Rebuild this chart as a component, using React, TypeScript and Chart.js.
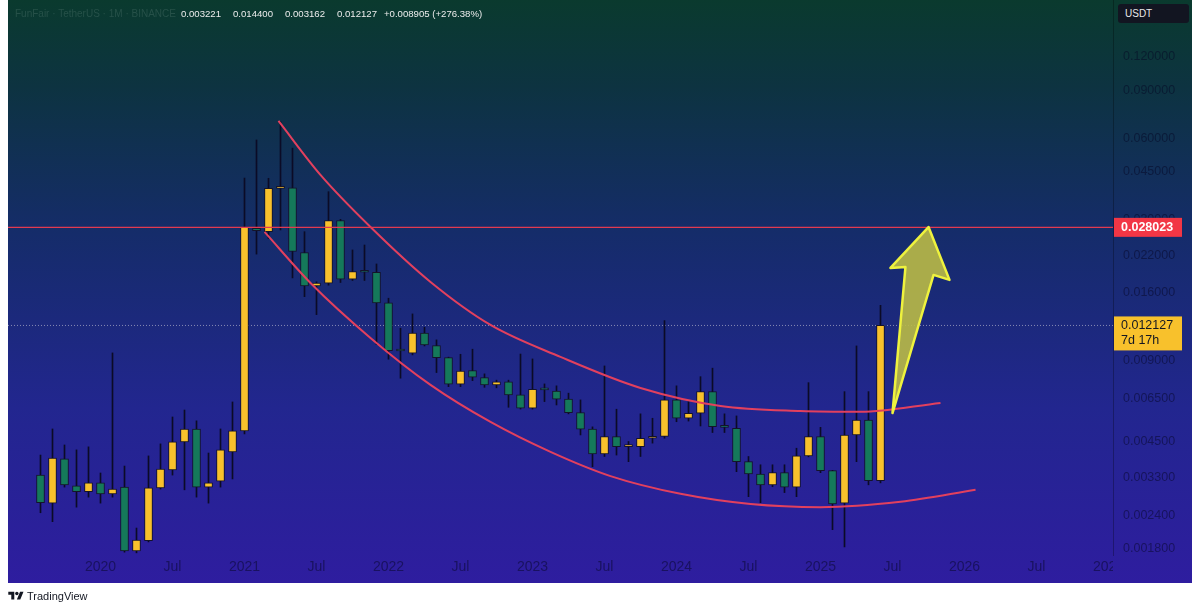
import React, { useEffect, useRef } from 'react';
import { Chart, registerables } from 'chart.js';

Chart.register(...registerables);

// ---------- data (month index: 0 = Jan 2020) ----------
const candleMonths = [
  -5, -4, -3, -2, -1,
  0, 1, 2, 3, 4, 5, 6, 7, 8, 9, 10, 11,
  12, 13, 14, 15, 16, 17, 18, 19, 20, 21, 22, 23,
  24, 25, 26, 27, 28, 29, 30, 31, 32, 33, 34, 35,
  36, 37, 38, 39, 40, 41, 42, 43, 44, 45, 46, 47,
  48, 49, 50, 51, 52, 53, 54, 55, 56, 57, 58, 59,
  60, 61, 62, 63, 64, 65,
];
const candleOpen = [
  0.00338, 0.00266, 0.00388, 0.00308, 0.00293,
  0.00316, 0.00288, 0.00305, 0.00177, 0.00193, 0.00303, 0.00353, 0.00449, 0.00501, 0.00305, 0.00321, 0.00412,
  0.00493, 0.0278, 0.027, 0.0391, 0.0393, 0.0226, 0.017, 0.0174, 0.0297, 0.018, 0.0192, 0.0191,
  0.0147, 0.00978, 0.00957, 0.01135, 0.01021, 0.00921, 0.00734, 0.00824, 0.00777, 0.0073, 0.0075, 0.0067,
  0.00598, 0.00703, 0.00693, 0.00646, 0.00576, 0.005, 0.00405, 0.00469, 0.00431, 0.00431, 0.00463, 0.0047,
  0.00642, 0.00549, 0.00573, 0.00689, 0.00511, 0.00504, 0.00379, 0.00341, 0.00311, 0.00345, 0.00305, 0.00398,
  0.00469, 0.00351, 0.00266, 0.00476, 0.00541, 0.003221,
];
const candleHigh = [
  0.00401, 0.00501, 0.00437, 0.00419, 0.0043,
  0.00344, 0.00959, 0.00365, 0.00215, 0.00398, 0.00441, 0.00555, 0.00589, 0.00537, 0.00408, 0.00501, 0.00631,
  0.0427, 0.0591, 0.0426, 0.0691, 0.0551, 0.027, 0.0176, 0.038, 0.03, 0.0231, 0.0241, 0.0205,
  0.0153, 0.01184, 0.01338, 0.01194, 0.01072, 0.00925, 0.00948, 0.0099, 0.00802, 0.0076, 0.0076, 0.0095,
  0.00911, 0.00736, 0.00724, 0.0068, 0.00642, 0.0051, 0.00858, 0.00593, 0.0045, 0.0057, 0.00549, 0.01264,
  0.00724, 0.00633, 0.00783, 0.00842, 0.0057, 0.0056, 0.00396, 0.00369, 0.00369, 0.00369, 0.00425, 0.00744,
  0.00508, 0.00352, 0.00689, 0.01018, 0.00689, 0.0144,
];
const candleLow = [
  0.00245, 0.00227, 0.00305, 0.00257, 0.0028,
  0.00266, 0.0028, 0.00175, 0.00174, 0.00191, 0.003, 0.00338, 0.00298, 0.0028, 0.00266, 0.00305, 0.00327,
  0.0048, 0.0223, 0.0255, 0.0274, 0.0182, 0.0155, 0.0133, 0.0171, 0.0175, 0.0178, 0.0178, 0.0103,
  0.00909, 0.00773, 0.00943, 0.01018, 0.00811, 0.00719, 0.00719, 0.00757, 0.00715, 0.00712, 0.00603, 0.00594,
  0.00594, 0.00633, 0.00615, 0.0057, 0.00476, 0.00363, 0.00396, 0.00401, 0.00379, 0.00396, 0.00444, 0.00463,
  0.00533, 0.00536, 0.00514, 0.00486, 0.00486, 0.00348, 0.00281, 0.00267, 0.00306, 0.00291, 0.00281, 0.00395,
  0.00345, 0.00212, 0.00183, 0.00379, 0.00311, 0.003162,
];
const candleClose = [
  0.00267, 0.00391, 0.00311, 0.00293, 0.00316,
  0.00288, 0.003, 0.00177, 0.00194, 0.00303, 0.00356, 0.00449, 0.00501, 0.00305, 0.00316, 0.00419, 0.00493,
  0.0281, 0.02725, 0.0391, 0.0395, 0.0228, 0.017, 0.0174, 0.0297, 0.018, 0.0192, 0.0191, 0.0147,
  0.00978, 0.00975, 0.01135, 0.01027, 0.00921, 0.00734, 0.00822, 0.00779, 0.0073, 0.0075, 0.0067, 0.00598,
  0.00703, 0.007, 0.00646, 0.00576, 0.005, 0.00405, 0.00469, 0.00431, 0.00435, 0.00463, 0.0047, 0.00642,
  0.00549, 0.00573, 0.00689, 0.00511, 0.00508, 0.00379, 0.00341, 0.00311, 0.00345, 0.00305, 0.00398, 0.00469,
  0.00351, 0.00264, 0.00476, 0.00541, 0.003222, 0.012127,
];

// descending-channel drawings (month index, price)
const upperCurveX = [14.83, 18.33, 22.5, 27.5, 32.5, 38.33, 45, 51.67, 58.33, 63.33, 70];
const upperCurveY = [0.0695, 0.04385, 0.0281, 0.01758, 0.01218, 0.00927, 0.00711, 0.0061, 0.00584, 0.0058, 0.00626];
const lowerCurveX = [13.67, 17.5, 22.5, 27.5, 32.5, 37.5, 42.5, 48.33, 54.17, 60, 66.67, 72.92];
const lowerCurveY = [0.02695, 0.01743, 0.0109, 0.0073, 0.00532, 0.00412, 0.00335, 0.00288, 0.00264, 0.00257, 0.00269, 0.00298];

// arrow drawing (month index, price)
const arrowX = [69.0, 70.75, 69.42, 66.0, 67.08, 65.83];
const arrowY = [0.0281, 0.01789, 0.01867, 0.00574, 0.01999, 0.01982];

const resistanceLevel = 0.028023;
const lastPrice = 0.012127;
const countdown = '7d 17h';
const symbolTitle = 'FunFair · TetherUS · 1M · BINANCE';
const quoteCurrency = 'USDT';

const xTickMonths = [0, 6, 12, 18, 24, 30, 36, 42, 48, 54, 60, 66, 72, 78, 84];
const yTickValues = [0.0018, 0.0024, 0.0033, 0.0045, 0.0065, 0.009, 0.012, 0.016, 0.022, 0.03, 0.045, 0.06, 0.09, 0.12];

// ---------- styling ----------
const X_MIN = (8 - 100.5) / 12;
const X_MAX = (1113 - 100.5) / 12;
const Y_MIN = 0.0016934;
const Y_MAX = 0.19525;
const UP = '#f8c12c';
const DOWN = '#15795a';
const WICK = '#0b0b26';
const CURVE = '#e2405e';
const TICK_COLOR = 'rgba(5,5,35,0.5)';
const FONT = "'Liberation Sans', Arial, sans-serif";
const FRAME = { left: 8, top: 0, right: 1192, bottom: 583 };

function frameGradient(ctx: CanvasRenderingContext2D) {
  const g = ctx.createLinearGradient(0, FRAME.top, 0, FRAME.bottom);
  g.addColorStop(0, '#0a3a2e');
  g.addColorStop(0.15, '#0d3341');
  g.addColorStop(0.4, '#152c6a');
  g.addColorStop(0.7, '#22268f');
  g.addColorStop(1, '#2e1d9f');
  return g;
}

function xLabel(v: number) {
  const m = Math.round(v);
  if (m % 12 === 0) return String(2020 + m / 12);
  return 'Jul';
}

const backgroundPlugin = {
  id: 'bg',
  beforeDraw(chart: any) {
    const ctx = chart.ctx as CanvasRenderingContext2D;
    ctx.save();
    ctx.fillStyle = '#ffffff';
    ctx.fillRect(0, 0, chart.width, chart.height);
    ctx.fillStyle = frameGradient(ctx);
    ctx.fillRect(FRAME.left, FRAME.top, FRAME.right - FRAME.left, FRAME.bottom - FRAME.top);
    ctx.restore();
  },
};

const arrowPlugin = {
  id: 'arrow',
  afterDatasetsDraw(chart: any) {
    const ctx = chart.ctx as CanvasRenderingContext2D;
    const xs = chart.scales.x;
    const ys = chart.scales.y;
    ctx.save();
    ctx.beginPath();
    arrowX.forEach((m, i) => {
      const px = xs.getPixelForValue(m);
      const py = ys.getPixelForValue(arrowY[i]);
      if (i === 0) ctx.moveTo(px, py);
      else ctx.lineTo(px, py);
    });
    ctx.closePath();
    ctx.fillStyle = 'rgba(186,186,70,0.9)';
    ctx.fill();
    ctx.lineJoin = 'round';
    ctx.lineWidth = 2.5;
    ctx.strokeStyle = '#eef23e';
    ctx.stroke();
    ctx.restore();
  },
};

const tagsPlugin = {
  id: 'tags',
  afterDraw(chart: any) {
    const ctx = chart.ctx as CanvasRenderingContext2D;
    const ys = chart.scales.y;
    const area = chart.chartArea;
    ctx.save();
    // time-axis strip under the price axis
    ctx.fillStyle = frameGradient(ctx);
    ctx.fillRect(area.right, area.bottom, FRAME.right - area.right, FRAME.bottom - area.bottom);

    // resistance tag
    const ry = ys.getPixelForValue(resistanceLevel);
    ctx.fillStyle = '#f23645';
    ctx.fillRect(area.right + 1, ry - 9.5, 68, 19);
    ctx.fillStyle = '#ffffff';
    ctx.font = `bold 12.5px ${FONT}`;
    ctx.textBaseline = 'middle';
    ctx.textAlign = 'left';
    ctx.fillText(resistanceLevel.toFixed(6), area.right + 8, ry + 0.5);

    // last price tag
    const ly = ys.getPixelForValue(lastPrice);
    ctx.fillStyle = '#f8c12c';
    ctx.fillRect(area.right + 1, ly - 9, 68, 34);
    ctx.fillStyle = '#131722';
    ctx.font = `12.5px ${FONT}`;
    ctx.fillText(lastPrice.toFixed(6), area.right + 8, ly);
    ctx.fillText(countdown, area.right + 8, ly + 15.5);
    ctx.restore();
  },
};

export default function App() {
  const canvasRef = useRef<HTMLCanvasElement | null>(null);

  useEffect(() => {
    if (!canvasRef.current) return;
    const bodyColors = candleOpen.map((o, i) => (candleClose[i] >= o ? UP : DOWN));
    const chart = new Chart(canvasRef.current, {
      type: 'bar',
      data: {
        datasets: [
          {
            type: 'line',
            label: 'resistance',
            data: [
              { x: X_MIN, y: resistanceLevel },
              { x: X_MAX, y: resistanceLevel },
            ],
            borderColor: '#e23a50',
            borderWidth: 1.2,
            pointRadius: 0,
            order: 0,
          } as any,
          {
            type: 'line',
            label: 'upper curve',
            data: upperCurveX.map((x, i) => ({ x, y: upperCurveY[i] })),
            borderColor: CURVE,
            borderWidth: 2,
            pointRadius: 0,
            cubicInterpolationMode: 'monotone',
            order: 0,
          } as any,
          {
            type: 'line',
            label: 'lower curve',
            data: lowerCurveX.map((x, i) => ({ x, y: lowerCurveY[i] })),
            borderColor: CURVE,
            borderWidth: 2,
            pointRadius: 0,
            cubicInterpolationMode: 'monotone',
            order: 0,
          } as any,
          {
            type: 'line',
            label: 'last price',
            data: [
              { x: X_MIN, y: lastPrice },
              { x: X_MAX, y: lastPrice },
            ],
            borderColor: 'rgba(205,205,215,0.6)',
            borderWidth: 1,
            borderDash: [1, 2],
            pointRadius: 0,
            order: 3,
          } as any,
          {
            type: 'bar',
            label: 'body',
            data: candleMonths.map((m, i) => ({ x: m, y: [candleOpen[i], candleClose[i]] })),
            backgroundColor: bodyColors,
            borderColor: '#14132a',
            borderWidth: 1,
            borderSkipped: false,
            barThickness: 8,
            minBarLength: 2,
            grouped: false,
            order: 1,
          } as any,
          {
            type: 'bar',
            label: 'wick',
            data: candleMonths.map((m, i) => ({ x: m, y: [candleLow[i], candleHigh[i]] })),
            backgroundColor: WICK,
            borderWidth: 0,
            barThickness: 1,
            grouped: false,
            order: 2,
          } as any,
        ],
      },
      options: {
        responsive: false,
        animation: false,
        events: [],
        layout: { padding: { left: 8, right: 8, top: 0, bottom: 26 } },
        plugins: { legend: { display: false }, tooltip: { enabled: false } },
        scales: {
          x: {
            type: 'linear',
            min: X_MIN,
            max: X_MAX,
            bounds: 'data',
            offset: false,
            afterBuildTicks: (s: any) => {
              s.ticks = xTickMonths.map((v) => ({ value: v }));
            },
            afterFit: (s: any) => {
              s.height = 27;
              s.paddingLeft = 0;
              s.paddingRight = 0;
            },
            grid: { display: false, drawTicks: false, offset: false },
            border: { display: false },
            ticks: {
              autoSkip: false,
              maxRotation: 0,
              padding: 3,
              color: TICK_COLOR,
              font: { family: FONT, size: 14 },
              callback: (v: any) => xLabel(Number(v)),
            },
          },
          y: {
            type: 'logarithmic',
            position: 'right',
            min: Y_MIN,
            max: Y_MAX,
            bounds: 'data',
            afterBuildTicks: (s: any) => {
              s.ticks = yTickValues.map((v) => ({ value: v }));
            },
            afterFit: (s: any) => {
              s.width = 79;
              s.paddingTop = 0;
              s.paddingBottom = 0;
            },
            grid: { display: false, drawTicks: false },
            border: { display: true, color: 'rgba(0,0,0,0.28)', width: 1 },
            ticks: {
              autoSkip: false,
              padding: 10,
              color: TICK_COLOR,
              font: { family: FONT, size: 12.5 },
              callback: (v: any) => Number(v).toFixed(6),
            },
          },
        },
      } as any,
      plugins: [backgroundPlugin, arrowPlugin, tagsPlugin],
    });
    return () => chart.destroy();
  }, []);

  const n = candleClose.length;
  const last = candleClose[n - 1];
  const prev = candleClose[n - 2];
  const change = last - prev;
  const pct = (change / prev) * 100;
  const headerValues = [
    { text: candleOpen[n - 1].toFixed(6), left: 181 },
    { text: candleHigh[n - 1].toFixed(6), left: 233 },
    { text: candleLow[n - 1].toFixed(6), left: 285 },
    { text: last.toFixed(6), left: 337 },
    { text: `${change >= 0 ? '+' : ''}${change.toFixed(6)} (${change >= 0 ? '+' : ''}${pct.toFixed(2)}%)`, left: 384 },
  ];

  return (
    <div style={{ position: 'fixed', left: 0, top: 0, width: 1200, height: 609, background: '#fff', overflow: 'hidden' }}>
      <canvas ref={canvasRef} width={1200} height={609} style={{ display: 'block', width: 1200, height: 609 }} />
      <div
        style={{
          position: 'absolute', left: 15, top: 8, fontFamily: FONT, fontSize: 10,
          color: 'rgba(120,150,145,0.25)', whiteSpace: 'nowrap', lineHeight: '12px',
        }}
      >
        {symbolTitle}
      </div>
      {headerValues.map((h) => (
        <div
          key={h.left}
          style={{
            position: 'absolute', left: h.left, top: 8, fontFamily: FONT, fontSize: 9.6,
            color: '#ececec', whiteSpace: 'nowrap', lineHeight: '12px',
          }}
        >
          {h.text}
        </div>
      ))}
      <div
        style={{
          position: 'absolute', left: 1118, top: 4, width: 71, height: 19, borderRadius: 3,
          background: '#121521', color: '#e8e8e8', fontFamily: FONT, fontSize: 10,
          lineHeight: '19px', paddingLeft: 7, boxSizing: 'border-box',
        }}
      >
        {quoteCurrency}
      </div>
      <div style={{ position: 'absolute', left: 8, top: 590, display: 'flex', alignItems: 'center', gap: 3 }}>
        <svg width="16" height="12" viewBox="0 0 36 28">
          <path d="M14 22H7V11H0V4h14v18zM28 22h-8l7.5-18h8L28 22z" fill="#131722" />
          <circle cx="20" cy="8" r="4" fill="#131722" />
        </svg>
        <span style={{ fontFamily: FONT, fontSize: 11, color: '#131722', lineHeight: '12px' }}>TradingView</span>
      </div>
    </div>
  );
}
